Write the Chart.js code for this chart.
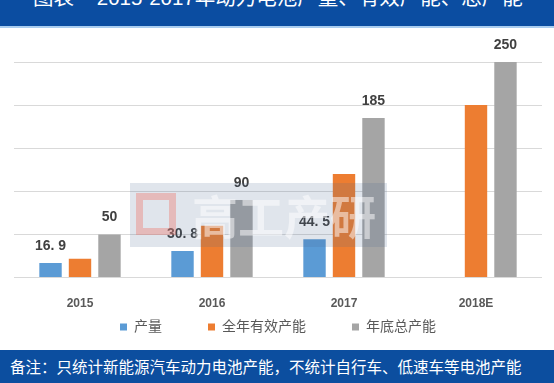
<!DOCTYPE html>
<html><head><meta charset="utf-8">
<script src="https://cdn.jsdelivr.net/npm/chart.js@4/dist/chart.umd.min.js"></script>
<style>
html,body{margin:0;padding:0;background:#fff;width:554px;height:383px;overflow:hidden;position:relative;font-family:"Noto Sans CJK SC",sans-serif;}
#titlebar{position:absolute;left:0;top:0;width:554px;height:26px;background:#0b4da1;overflow:hidden;}
#titlebar span{position:absolute;left:33px;top:-12px;font-size:20.5px;line-height:20px;color:#fff;white-space:pre;font-family:"Liberation Sans","Noto Sans CJK SC",sans-serif;}
#sep{position:absolute;left:0;top:26px;width:554px;height:2px;background:#a9cdf0;}
#footer{position:absolute;left:0;top:350px;width:554px;height:33px;background:#0c4e9f;z-index:3;}
#footer span{position:absolute;left:10px;top:6px;font-size:15.5px;line-height:20px;color:#fff;white-space:nowrap;}
#wrap{position:absolute;left:0;top:28px;width:554px;height:322px;}
#wm{position:absolute;left:130px;top:183px;width:257px;height:64px;background:rgba(70,100,145,0.17);z-index:2;pointer-events:none;}
#wm .g{position:absolute;left:6px;top:10px;width:40px;height:42px;border:7px solid rgba(235,120,110,0.4);box-sizing:border-box;}
#wm .t{position:absolute;left:62px;top:0px;font-size:46px;line-height:62px;font-weight:bold;color:rgba(255,255,255,0.5);white-space:nowrap;}
</style></head>
<body>
<div id="titlebar"><span>图表    2015-2017年动力电池产量、有效产能、总产能</span></div>
<div id="sep"></div>
<div id="wrap"><canvas id="c" width="554" height="322"></canvas></div>
<div id="wm"><div class="g"></div><div class="t">高工产研</div></div>
<div id="footer"><span>备注：只统计新能源汽车动力电池产能，不统计自行车、低速车等电池产能</span></div>
<script>
const categories = ["2015", "2016", "2017", "2018E"];
const seriesNames = ["产量", "全年有效产能", "年底总产能"];
const output = [16.9, 30.8, 44.5, null];
const effectiveCapacity = [22, 60, 120, 200];
const totalCapacity = [50, 90, 185, 250];
const yTicks = [0, 50, 100, 150, 200, 250];

const FONT = '"Liberation Sans","Noto Sans CJK SC",sans-serif';

const dataLabels = {
  id: 'dataLabels',
  afterDatasetsDraw(chart) {
    const ctx = chart.ctx;
    ctx.save();
    ctx.font = 'bold 14px ' + FONT;
    ctx.fillStyle = '#404040';
    ctx.textAlign = 'center';
    ctx.textBaseline = 'middle';
    [0, 2].forEach(di => {
      const meta = chart.getDatasetMeta(di);
      meta.data.forEach((el, i) => {
        const v = chart.data.datasets[di].data[i];
        if (v === null || v === undefined) return;
        const txt = String(v).replace('.', '. ');
        ctx.fillText(txt, el.x, el.y - 17);
      });
    });
    ctx.restore();
  }
};

const legendShift = {
  id: 'legendShift',
  afterLayout(chart) {
    const lg = chart.legend;
    if (lg) { lg.top = 299 - 7 - 46; }
  }
};

new Chart(document.getElementById('c'), {
  type: 'bar',
  data: {
    labels: categories,
    datasets: [
      { label: seriesNames[0], data: output, backgroundColor: '#5b9bd5' },
      { label: seriesNames[1], data: effectiveCapacity, backgroundColor: '#ed7d31' },
      { label: seriesNames[2], data: totalCapacity, backgroundColor: '#a5a5a5' }
    ]
  },
  options: {
    responsive: false,
    animation: false,
    devicePixelRatio: 1,
    categoryPercentage: 0.67,
    barPercentage: 0.76,
    layout: { padding: { left: 14, right: 12, top: 34, bottom: -42 } },
    scales: {
      x: {
        grid: { display: false },
        border: { display: false },
        ticks: { padding: 11, color: '#595959', font: { family: FONT, size: 12, weight: 'bold' } }
      },
      y: {
        min: 0, max: 250,
        afterBuildTicks(scale) { scale.ticks = yTicks.map(v => ({ value: v })); },
        grid: { color: '#d9d9d9', drawTicks: false },
        border: { display: false },
        ticks: { display: false }
      }
    },
    plugins: {
      tooltip: { enabled: false },
      legend: {
        position: 'bottom',
        labels: {
          boxWidth: 7, boxHeight: 7, padding: 46,
          color: '#595959',
          font: { family: FONT, size: 14 }
        }
      }
    }
  },
  plugins: [dataLabels, legendShift]
});
</script>
</body></html>
